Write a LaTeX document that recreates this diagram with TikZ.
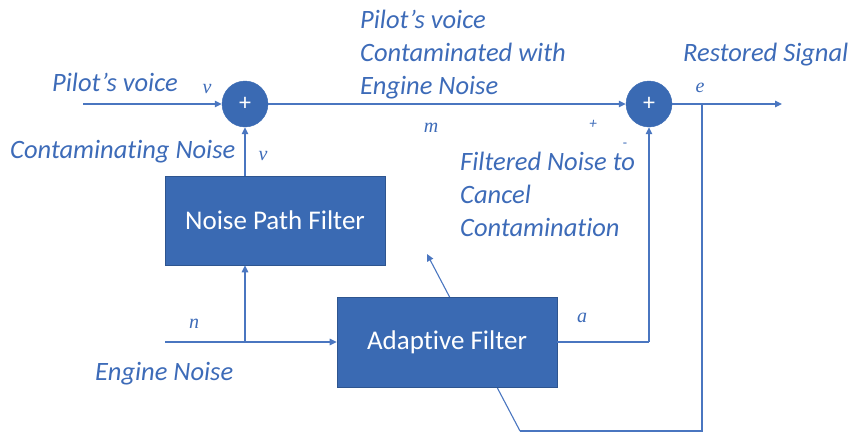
\documentclass[tikz,border=0pt]{standalone}
\usepackage{fontspec}
\setmainfont[Ligatures=NoCommon]{Carlito}
\newfontfamily\symfont{Liberation Serif}
\usetikzlibrary{arrows.meta}
\definecolor{boxblue}{HTML}{3A6AB3}
\definecolor{lineblue}{HTML}{4A76C0}
\definecolor{txtblue}{HTML}{3D6BB8}
\tikzset{
  block/.style={draw=boxblue!80!black, line width=0.6pt, fill=boxblue, text=white, font=\fontsize{27}{30}\selectfont, inner sep=0pt},
  sumnode/.style={circle, fill=boxblue, draw=boxblue, minimum size=46pt, inner sep=0pt, text=white, font=\fontsize{24}{26}\selectfont},
  wire/.style={draw=lineblue, line width=1.1pt},
  arr/.style={wire, -{Triangle[length=7pt,width=6.5pt]}},
  lbl/.style={text=txtblue, font=\fontsize{26.5}{30}\selectfont\itshape, inner sep=0pt},
  sym/.style={text=txtblue, font=\symfont\fontsize{20}{22}\selectfont\itshape, inner sep=0pt},
  sign/.style={text=txtblue, inner sep=0pt, font=\fontsize{14}{14}\selectfont},
}
\begin{document}
\begin{tikzpicture}[x=1pt,y=-1pt]
\useasboundingbox (0,0) rectangle (858,432);

% summing junctions
\node[sumnode] (s1) at (245,104) {+};
\node[sumnode] (s2) at (649,104) {+};

% feedback path from the error output back to the adaptive filter
\coordinate (tap) at (702,104);
\coordinate (fbc) at (702,431);
\coordinate (fbb) at (520,431);
\coordinate (adj) at (427,254);
\draw[wire] (tap) -- (fbc) -- (fbb);
\draw[arr] (fbb) -- (adj);

% filter blocks
\node[block, minimum width=220pt, minimum height=89pt] (npf) at (275,220.5) {Noise Path Filter};
\node[block, minimum width=220pt, minimum height=90pt] (af) at (447,342) {Adaptive Filter};

% signal inputs and outputs
\coordinate (pin) at (83,104);
\coordinate (nin) at (165,342);
\coordinate (nbr) at (245,342);
\coordinate (aup) at (649,342);
\coordinate (out) at (782,104);

\draw[arr] (pin) -- (s1);
\draw[arr] (s1) -- (s2);
\draw[arr] (s2) -- (out);
\draw[arr] (nin) -- (af);
\draw[arr] (nbr) -- (nbr |- npf.south);
\draw[arr] (npf.north -| s1) -- (s1);
\draw[wire] (af.east) -- (aup);
\draw[arr] (aup) -- (s2);

% labels
\node[lbl, anchor=base west] (l1) at (52,91) {Pilot’s voice};
\node[sym, anchor=base] (v1) at (207,93) {v};
\node[lbl, anchor=base west] (l2) at (10,158) {Contaminating Noise};
\node[sym, anchor=base] (v2) at (263,160) {v};
\node[lbl, anchor=base west] (l3) at (360,28) {Pilot’s voice};
\node[lbl, anchor=base west] (l4) at (360,61) {Contaminated with};
\node[lbl, anchor=base west] (l5) at (360,94) {Engine Noise};
\node[sym, anchor=base] (m) at (431,132) {m};
\node[sign, anchor=center, font=\fontsize{15}{15}\selectfont\itshape] (pl) at (593,124) {+};
\node[sign, anchor=center] (mi) at (625,145) {-};
\node[lbl, anchor=base west] (l6) at (683,61) {Restored Signal};
\node[sym, anchor=base] (e) at (700,92) {e};
\node[lbl, anchor=base west] (l7) at (460,170) {Filtered Noise to};
\node[lbl, anchor=base west] (l8) at (460,203) {Cancel};
\node[lbl, anchor=base west] (l9) at (460,236) {Contamination};
\node[sym, anchor=base] (n) at (194,328) {n};
\node[sym, anchor=base] (a) at (582,322) {a};
\node[lbl, anchor=base west] (l10) at (95,380) {Engine Noise};
\end{tikzpicture}
\end{document}
